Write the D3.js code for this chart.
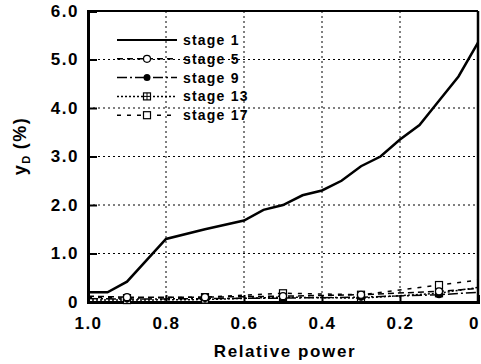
<!DOCTYPE html>
<html>
<head>
<meta charset="utf-8">
<script src="https://cdn.jsdelivr.net/npm/d3@7"></script>
<style>
  body { margin: 0; background: #fff; }
  text { font-family: "Liberation Sans", Arial, sans-serif; font-weight: bold; fill: #000; }
</style>
</head>
<body>
<div id="chart"></div>
<script>
(function() {

    var power = [1.0, 0.95, 0.9, 0.8, 0.7, 0.6, 0.55, 0.5, 0.45, 0.4, 0.35, 0.3, 0.25, 0.2, 0.15, 0.1, 0.05, 0.0];
    var stage1 = [0.2, 0.2, 0.42, 1.3, 1.5, 1.68, 1.9, 2.0, 2.2, 2.3, 2.5, 2.8, 3.0, 3.35, 3.65, 4.15, 4.65, 5.35];

    var lowPower = [1.0, 0.9, 0.7, 0.5, 0.3, 0.1, 0.0];
    var stage5 = [0.12, 0.1, 0.1, 0.12, 0.15, 0.22, 0.28];
    var stage9 = [0.07, 0.06, 0.07, 0.08, 0.1, 0.15, 0.2];
    var stage13 = [0.04, 0.04, 0.05, 0.1, 0.08, 0.18, 0.3];
    var stage17 = [0.1, 0.08, 0.1, 0.18, 0.15, 0.35, 0.45];

    var xTicks = [1.0, 0.8, 0.6, 0.4, 0.2, 0.0];
    var xTickLabels = ["1.0", "0.8", "0.6", "0.4", "0.2", "0"];
    var yTicks = [0, 1, 2, 3, 4, 5, 6];
    var yTickLabels = ["0", "1.0", "2.0", "3.0", "4.0", "5.0", "6.0"];

    var series = [
        { name: "stage 1", px: power, values: stage1, dash: null, marker: null },
        { name: "stage 5", px: lowPower, values: stage5, dash: "6,4", marker: "circle" },
        { name: "stage 9", px: lowPower, values: stage9, dash: "10,3,2,3", marker: "dot" },
        { name: "stage 13", px: lowPower, values: stage13, dash: "2,2", marker: "boxplus" },
        { name: "stage 17", px: lowPower, values: stage17, dash: "4,6", marker: "square" }
    ];

    var width = 481;
    var height = 364;
    var left = 88, right = 478, top = 11, bottom = 302;

    var svg = d3.select("#chart").append("svg")
        .attr("width", width)
        .attr("height", height);

    var x = d3.scaleLinear().domain([1.0, 0.0]).range([left, right]);
    var y = d3.scaleLinear().domain([0, 6]).range([bottom, top]);

    // grid
    var grid = svg.append("g")
        .attr("stroke", "#000")
        .attr("stroke-width", 1)
        .attr("stroke-dasharray", "2,3");
    grid.selectAll(".gy")
        .data(yTicks.slice(1, -1))
        .enter().append("line")
        .attr("x1", left).attr("x2", right)
        .attr("y1", function(d) { return y(d); })
        .attr("y2", function(d) { return y(d); });
    grid.selectAll(".gx")
        .data(xTicks.slice(1, -1))
        .enter().append("line")
        .attr("y1", top).attr("y2", bottom)
        .attr("x1", function(d) { return x(d); })
        .attr("x2", function(d) { return x(d); });

    // axes with inward ticks
    var yAxis = svg.append("g")
        .attr("transform", "translate(" + left + ",0)")
        .call(d3.axisRight(y).tickValues(yTicks).tickSize(9)
            .tickFormat(function(d, i) { return yTickLabels[i]; }));
    yAxis.select(".domain").attr("stroke-width", 3);
    yAxis.selectAll(".tick line").attr("stroke-width", 2);
    yAxis.selectAll(".tick text")
        .attr("x", -9)
        .attr("text-anchor", "end")
        .style("font-size", "17px")
        .style("letter-spacing", "1.5px");

    var xAxis = svg.append("g")
        .attr("transform", "translate(0," + bottom + ")")
        .call(d3.axisTop(x).tickValues(xTicks).tickSize(7)
            .tickFormat(function(d, i) { return xTickLabels[i]; }));
    xAxis.select(".domain").attr("stroke-width", 3);
    xAxis.selectAll(".tick line").attr("stroke-width", 2);
    xAxis.selectAll(".tick text")
        .attr("y", 27)
        .attr("dx", function(d, i) { return i === xTicks.length - 1 ? -4 : 0; })
        .style("font-size", "17px")
        .style("letter-spacing", "1.5px");

    // frame top and right
    svg.append("line").attr("x1", left).attr("x2", right).attr("y1", top).attr("y2", top)
        .attr("stroke", "#000").attr("stroke-width", 2);
    svg.append("line").attr("x1", right).attr("x2", right).attr("y1", top).attr("y2", bottom)
        .attr("stroke", "#000").attr("stroke-width", 2.5);

    // lines
    var line = d3.line()
        .x(function(d) { return x(d[0]); })
        .y(function(d) { return y(d[1]); });

    function drawMarker(g, type, cx, cy) {
        if (type === "circle") {
            g.append("circle").attr("cx", cx).attr("cy", cy).attr("r", 3.5)
                .attr("fill", "#fff").attr("stroke", "#000").attr("stroke-width", 1.2);
        } else if (type === "dot") {
            g.append("circle").attr("cx", cx).attr("cy", cy).attr("r", 3.5).attr("fill", "#000");
        } else if (type === "boxplus") {
            g.append("rect").attr("x", cx - 3.5).attr("y", cy - 3.5).attr("width", 7).attr("height", 7)
                .attr("fill", "#fff").attr("stroke", "#000").attr("stroke-width", 1.2);
            g.append("path").attr("d", "M" + (cx - 3.5) + "," + cy + "H" + (cx + 3.5) + "M" + cx + "," + (cy - 3.5) + "V" + (cy + 3.5))
                .attr("stroke", "#000").attr("stroke-width", 1);
        } else if (type === "square") {
            g.append("rect").attr("x", cx - 3.5).attr("y", cy - 3.5).attr("width", 7).attr("height", 7)
                .attr("fill", "#fff").attr("stroke", "#000").attr("stroke-width", 1.2);
        }
    }

    series.slice().reverse().forEach(function(s) {
        var pts = s.px.map(function(p, i) { return [p, s.values[i]]; });
        svg.append("path")
            .datum(pts)
            .attr("fill", "none")
            .attr("stroke", "#000")
            .attr("stroke-width", s.marker ? 1.5 : 2.5)
            .attr("stroke-dasharray", s.dash)
            .attr("d", line);
        if (s.marker) {
            var mg = svg.append("g");
            pts.slice(1, -1).forEach(function(d) {
                drawMarker(mg, s.marker, x(d[0]), y(d[1]));
            });
        }
    });

    // legend
    var legend = svg.append("g").attr("transform", "translate(117,40)");
    series.forEach(function(s, i) {
        var row = legend.append("g").attr("transform", "translate(0," + (i * 18.8) + ")");
        row.append("line")
            .attr("x1", 0).attr("x2", 60).attr("y1", 0).attr("y2", 0)
            .attr("stroke", "#000")
            .attr("stroke-width", s.marker ? 1.5 : 2)
            .attr("stroke-dasharray", s.dash);
        if (s.marker) drawMarker(row, s.marker, 30, 0);
        row.append("text")
            .attr("x", 66)
            .attr("y", 5)
            .style("font-size", "14px")
            .style("letter-spacing", "1.2px")
            .text(s.name);
    });

    // axis titles
    svg.append("text")
        .attr("x", 285)
        .attr("y", 357)
        .attr("text-anchor", "middle")
        .style("font-size", "17px")
        .style("letter-spacing", "1.6px")
        .text("Relative power");

    var yl = svg.append("text")
        .attr("transform", "translate(26,146) rotate(-90)")
        .attr("text-anchor", "middle")
        .style("font-size", "18px")
        .style("letter-spacing", "1.5px");
    yl.append("tspan").text("y");
    yl.append("tspan").attr("dy", 4).style("font-size", "11px").text("D");
    yl.append("tspan").attr("dy", -4).attr("dx", 5).text("(%)");

})();
</script>
</body>
</html>
